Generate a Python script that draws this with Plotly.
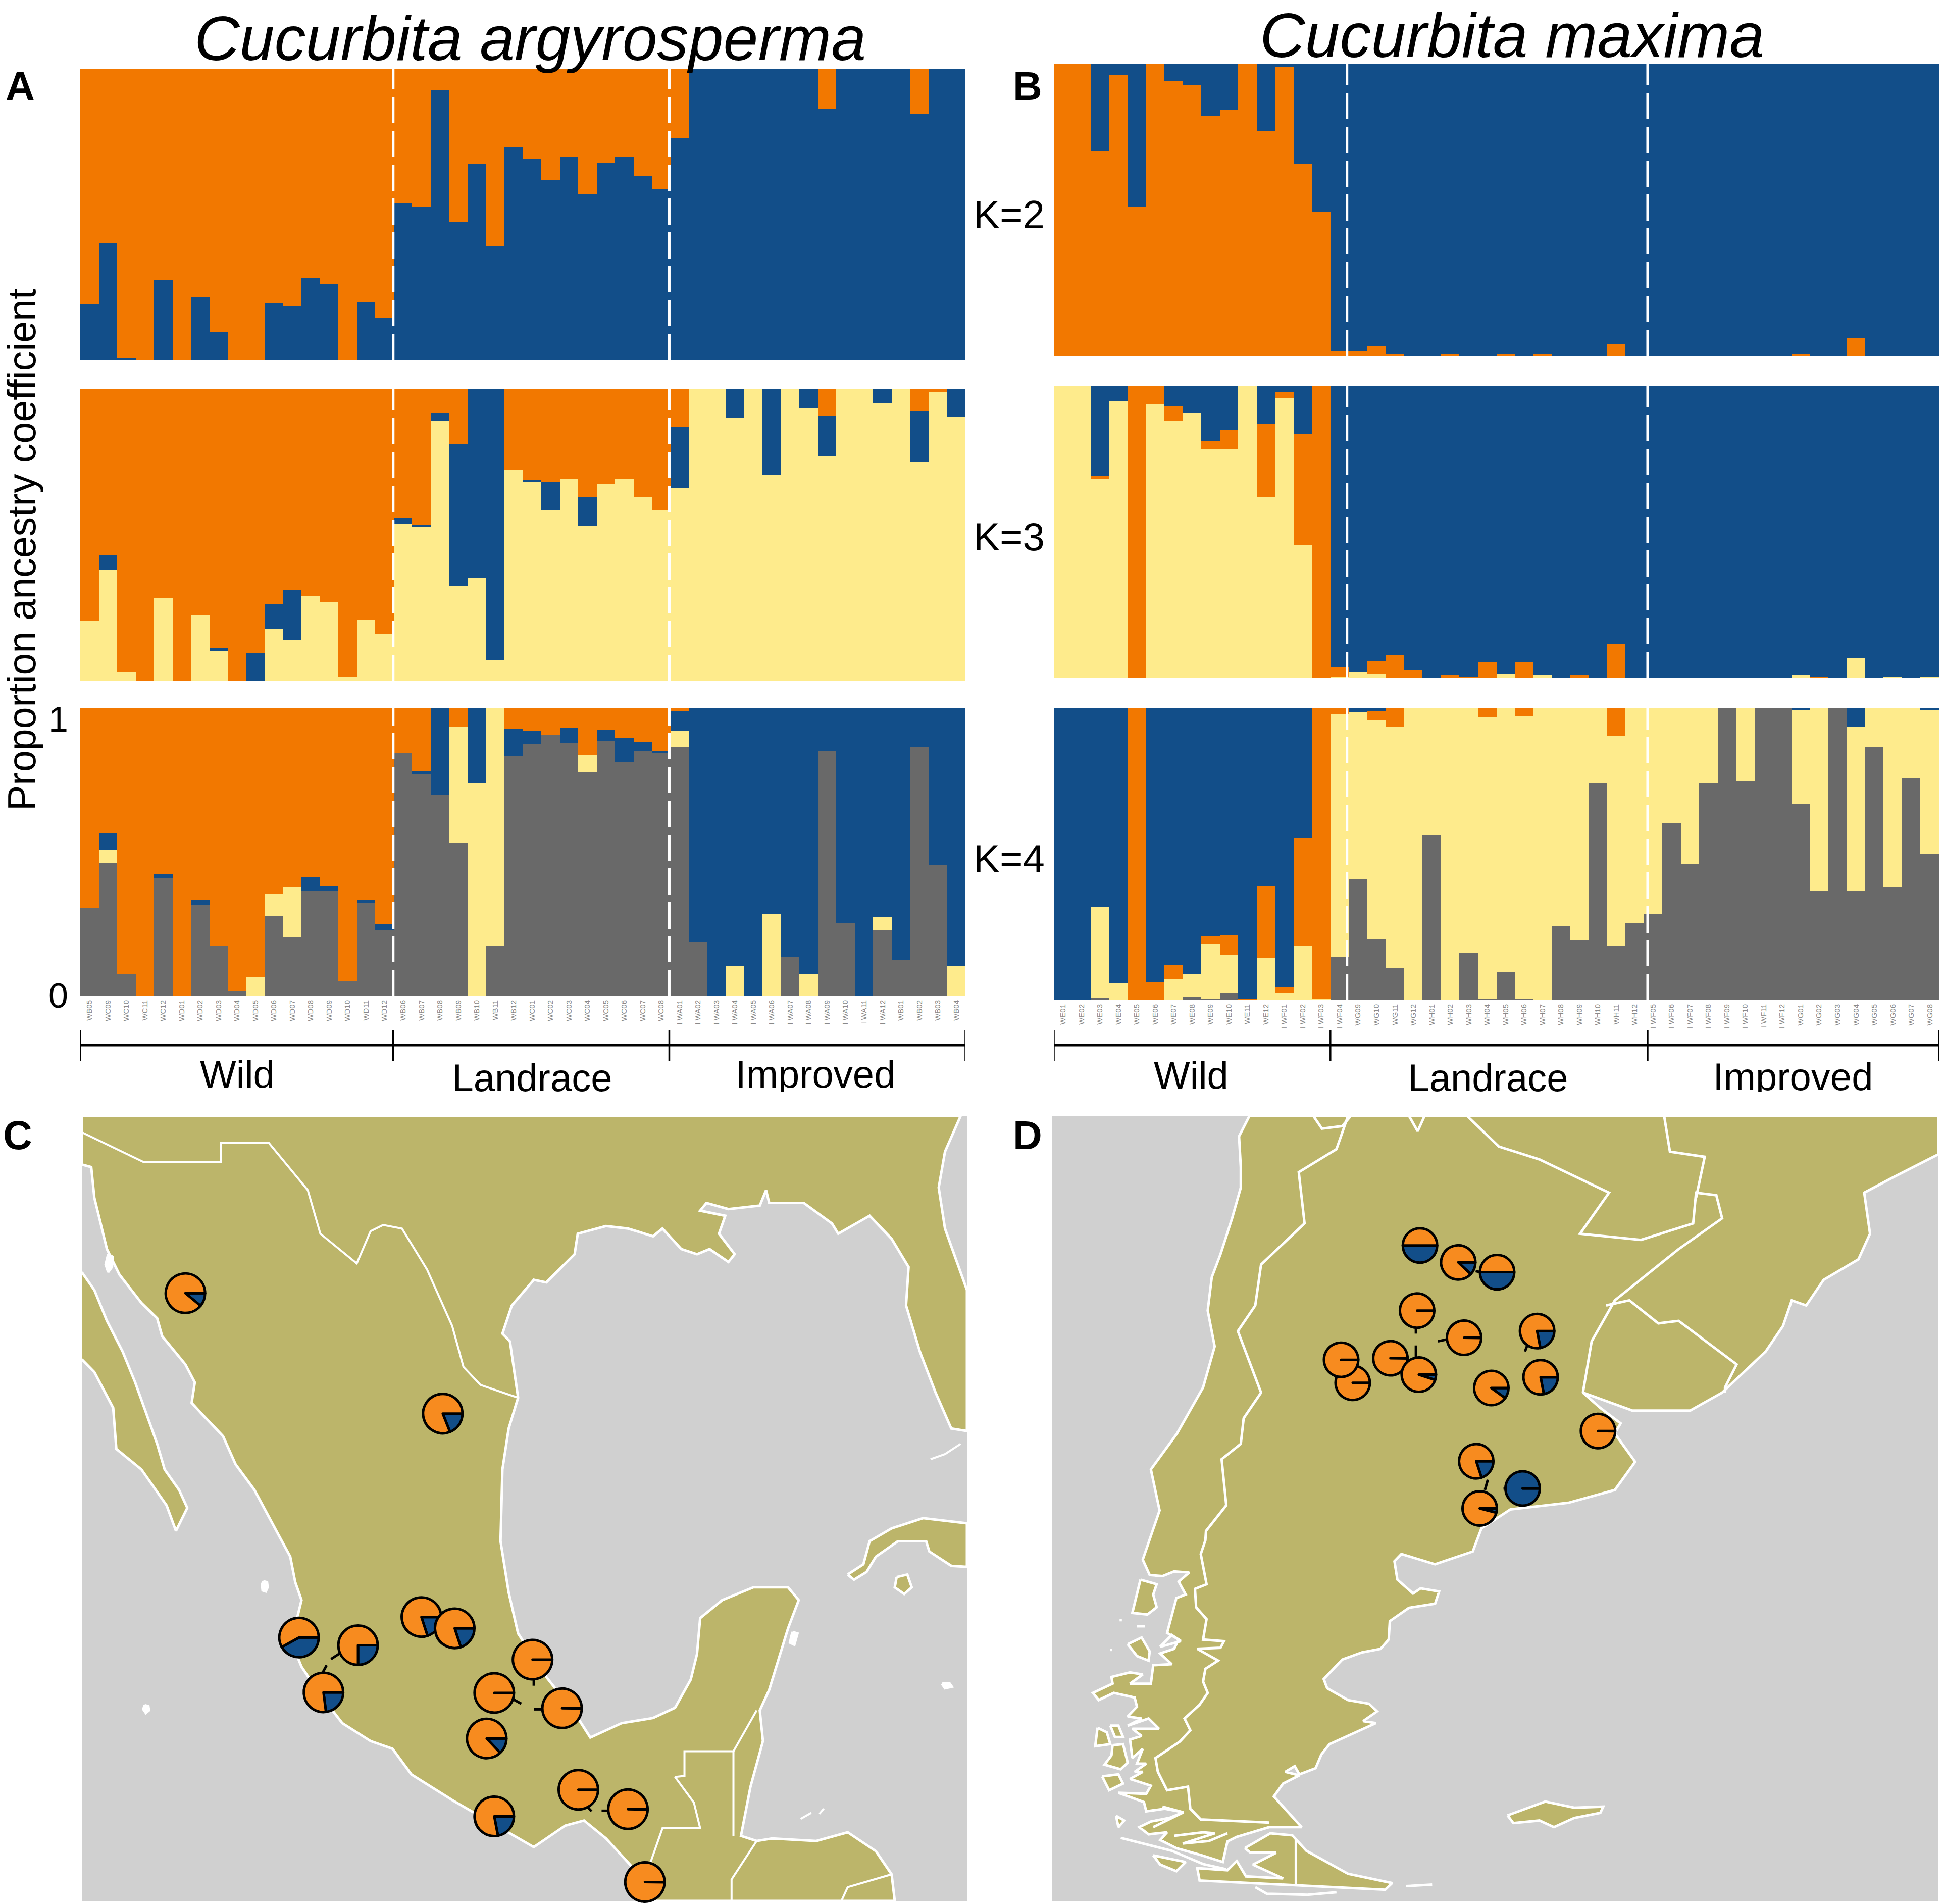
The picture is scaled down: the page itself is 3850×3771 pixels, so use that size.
import plotly.graph_objects as go

W, H = 3850, 3771

BLUE = "#124E89"
ORANGE = "#F27800"
YELLOW = "#FEEB8C"
GREY = "#696969"
LAND = "#BCB56A"
SEA = "#D0D0D0"
PIE_ORANGE = "#F78B1F"

# sample names, left to right
samples_a = ["WB05", "WC09", "WC10", "WC11", "WC12", "WD01", "WD02", "WD03", "WD04", "WD05", "WD06", "WD07", "WD08",
             "WD09", "WD10", "WD11", "WD12",
             "WB06", "WB07", "WB08", "WB09", "WB10", "WB11", "WB12", "WC01", "WC02", "WC03", "WC04", "WC05", "WC06",
             "WC07", "WC08",
             "I WA01", "I WA02", "I WA03", "I WA04", "I WA05", "I WA06", "I WA07", "I WA08", "I WA09", "I WA10",
             "I WA11", "I WA12", "WB01", "WB02", "WB03", "WB04"]
samples_b = ["WE01", "WE02", "WE03", "WE04", "WE05", "WE06", "WE07", "WE08", "WE09", "WE10", "WE11", "WE12", "I WF01",
             "I WF02", "I WF03",
             "I WF04", "WG09", "WG10", "WG11", "WG12", "WH01", "WH02", "WH03", "WH04", "WH05", "WH06", "WH07", "WH08",
             "WH09", "WH10", "WH11", "WH12",
             "I WF05", "I WF06", "I WF07", "I WF08", "I WF09", "I WF10", "I WF11", "I WF12", "WG01", "WG02", "WG03",
             "WG04", "WG05", "WG06", "WG07", "WG08"]

# ancestry proportions, C. argyrosperma
a_k2_blue = [.19, .40, .005, 0, .274, 0, .216, .095, 0, 0, .195, .184, .28, .26, 0, .20, .146,
             .538, .527, .925, .475, .672, .39, .729, .692, .617, .698, .57, .676, .698, .633, .586,
             .76, 1, 1, 1, 1, 1, 1, 1, .861, 1, 1, 1, 1, .845, 1, 1]
a_k2_orange = [.81, .60, .995, 1, .726, 1, .784, .905, 1, 1, .805, .816, .72, .74, 1, .80, .854,
               .462, .473, .075, .525, .328, .61, .271, .308, .383, .302, .43, .324, .302, .367, .414,
               .24, 0, 0, 0, 0, 0, 0, 0, .139, 0, 0, 0, 0, .155, 0, 0]

a_k3_yellow = [.206, .380, .032, 0, .285, 0, .227, .104, 0, 0, .179, .141, .291, .270, .014, .211, .162,
               .538, .527, .893, .327, .354, .072, .725, .681, .587, .693, .533, .675, .693, .630, .587,
               .661, 1, 1, .903, 1, .707, 1, .936, .772, 1, 1, .951, 1, .751, .989, .905]
a_k3_blue = [0, .053, 0, 0, 0, 0, 0, .008, 0, .095, .085, .171, 0, 0, 0, 0, 0,
             .023, .007, .028, .486, .646, .928, 0, .008, .094, 0, .097, 0, 0, 0, 0,
             .210, 0, 0, .097, 0, .293, 0, .064, .136, 0, 0, .049, 0, .174, 0, .095]
a_k3_orange = [.794, .567, .968, 1, .715, 1, .773, .888, 1, .905, .736, .688, .709, .730, .986, .789, .838,
               .439, .466, .079, .187, 0, 0, .275, .311, .319, .307, .370, .325, .307, .370, .413,
               .129, 0, 0, 0, 0, 0, 0, 0, .092, 0, 0, 0, 0, .075, .011, 0]

a_k4_grey = [.306, .461, .077, 0, .411, 0, .317, .174, .017, 0, .279, .205, .366, .366, .054, .324, .230,
             .844, .773, .699, .532, 0, .174, .832, .876, .907, .877, .778, .885, .810, .849, .843,
             .863, .190, 0, 0, 0, 0, .136, 0, .849, .254, 0, .230, .125, .865, .456, 0]
a_k4_yellow = [0, .045, 0, 0, 0, 0, 0, 0, 0, .066, .077, .173, 0, 0, 0, 0, 0,
               0, 0, 0, .403, .741, .826, 0, 0, 0, 0, .060, 0, 0, 0, 0,
               .057, 0, 0, .103, 0, .285, 0, .077, 0, 0, 0, .045, 0, 0, 0, .103]
a_k4_blue = [0, .060, 0, 0, .011, 0, .018, 0, 0, 0, 0, 0, .049, .016, 0, .011, .018,
             0, .007, .301, 0, .259, 0, .097, .045, 0, .053, 0, .039, .086, .032, .006,
             .067, .810, 1, .897, 1, .715, .864, .923, .151, .746, 1, .725, .875, .135, .544, .897]
a_k4_orange = [.694, .434, .923, 1, .578, 1, .665, .826, .983, .934, .644, .622, .585, .618, .946, .665, .752,
               .156, .220, 0, .065, 0, 0, .071, .079, .093, .070, .162, .076, .104, .119, .151,
               .013, 0, 0, 0, 0, 0, 0, 0, 0, 0, 0, 0, 0, 0, 0, 0]

# ancestry proportions, C. maxima
b_k2_orange = [1, 1, .702, .962, .512, 1, .942, .927, .820, .841, 1, .768, .988, .657, .493,
               .015, .015, .033, .005, 0, 0, .005, 0, 0, .005, 0, .005, 0, 0, 0, .042, 0,
               0, 0, 0, 0, 0, 0, 0, 0, .005, 0, 0, .063, 0, 0, 0, 0]
b_k2_blue = [0, 0, .298, .038, .488, 0, .058, .073, .180, .159, 0, .232, .012, .343, .507,
             .985, .985, .967, .995, 1, 1, .995, 1, 1, .995, 1, .995, 1, 1, 1, .958, 1,
             1, 1, 1, 1, 1, 1, 1, 1, .995, 1, 1, .937, 1, 1, 1, 1]

b_k3_yellow = [1, 1, .681, .949, 0, .937, .882, .910, .783, .783, 1, .619, .958, .456, 0,
               .006, .021, .016, 0, 0, 0, 0, 0, 0, .016, 0, .011, 0, 0, 0, 0, 0,
               0, 0, 0, 0, 0, 0, 0, 0, .011, 0, 0, .069, 0, .006, 0, .006]
b_k3_orange = [0, 0, .012, 0, 1, .063, .049, 0, .030, .069, 0, .252, .021, .379, 1,
               .032, 0, .042, .080, .027, 0, .011, .006, .053, 0, .053, 0, 0, .011, 0, .116, 0,
               0, 0, 0, 0, 0, 0, 0, 0, 0, .006, 0, 0, 0, 0, 0, 0]
b_k3_blue = [0, 0, .307, .051, 0, 0, .069, .090, .187, .148, 0, .129, .021, .165, 0,
             .962, .979, .942, .920, .973, 1, .989, .994, .947, .984, .947, .989, 1, .989, 1, .884, 1,
             1, 1, 1, 1, 1, 1, 1, 1, .989, .994, 1, .931, 1, .994, 1, .994]

b_k4_grey = [0, 0, .007, 0, 0, 0, 0, .011, .005, .025, 0, 0, 0, 0, 0,
             .148, .417, .210, .111, 0, .565, 0, .163, .005, .095, .005, 0, .254, .205, .745, .185, .265,
             .294, .607, .464, .745, 1, .750, 1, 1, .671, .373, 1, .373, .867, .389, .761, .501]
b_k4_yellow = [0, 0, .310, .058, 0, 0, .073, .078, .187, .130, 0, .144, .025, .185, .005,
               .831, .567, .748, .825, 1, .435, 1, .837, .963, .905, .968, 1, .746, .795, .255, .719, .735,
               .706, .393, .536, .255, 0, .250, 0, 0, .322, .627, 0, .563, .133, .611, .239, .492]
b_k4_orange = [0, 0, 0, 0, 1, .063, .048, 0, .029, .067, .005, .247, .022, .370, .995,
               .021, 0, .030, .064, 0, 0, 0, 0, .032, 0, .027, 0, 0, 0, 0, .096, 0,
               0, 0, 0, 0, 0, 0, 0, 0, 0, 0, 0, 0, 0, 0, 0, 0]
b_k4_blue = [1, 1, .683, .942, 0, .937, .879, .911, .779, .778, .995, .609, .953, .445, 0,
             0, .016, .012, 0, 0, 0, 0, 0, 0, 0, 0, 0, 0, 0, 0, 0, 0,
             0, 0, 0, 0, 0, 0, 0, 0, .007, 0, 0, .064, 0, 0, 0, .007]

# map C outlines, in map units of the panel (x 130-1540, y 30-1562 downwards)
c_main_x = [130, 130, 145, 150, 170, 190, 225, 250, 258, 295, 310, 305, 320, 355, 375, 405, 440, 462, 470, 480, 473,
            465, 480, 510, 545, 590, 625, 655, 720, 790, 850, 900, 930, 965, 1010, 1035, 1425, 1420, 1395, 1350,
            1300, 1230, 1205, 1180, 1195, 1215, 1210, 1225, 1240, 1255, 1272, 1255, 1200, 1150, 1115, 1110, 1100,
            1075, 1040, 990, 940, 915, 870, 825, 810, 797, 800, 810, 825, 812, 800, 815, 850, 870, 915, 920, 965,
            1000, 1040, 1055, 1085, 1110, 1130, 1160, 1170, 1145, 1155, 1115, 1125, 1160, 1210, 1220, 1225, 1280,
            1325, 1335, 1385, 1420, 1447, 1443, 1465, 1490, 1515, 1540, 1540, 1525, 1505, 1495, 1505, 1530, 130]
c_main_y = [30, 125, 130, 190, 290, 340, 395, 425, 460, 515, 550, 590, 610, 655, 710, 760, 840, 890, 940, 975, 1010,
            1060, 1105, 1160, 1215, 1250, 1265, 1315, 1365, 1415, 1457, 1415, 1405, 1440, 1500, 1562, 1562, 1510,
            1465, 1428, 1445, 1440, 1445, 1435, 1340, 1250, 1190, 1150, 1090, 1030, 975, 950, 950, 975, 1010, 1080,
            1130, 1185, 1205, 1215, 1243, 1195, 1125, 1040, 960, 860, 720, 640, 580, 470, 455, 400, 350, 355, 300,
            260, 245, 250, 265, 250, 290, 300, 290, 315, 300, 260, 225, 215, 200, 212, 205, 175, 200, 200, 240, 260,
            225, 270, 325, 400, 490, 570, 640, 645, 370, 320, 250, 170, 100, 30, 30]
c_baja_x = [130, 150, 170, 195, 215, 235, 250, 262, 285, 298, 280, 265, 225, 185, 180, 150, 130]
c_baja_y = [335, 370, 430, 490, 550, 620, 670, 720, 760, 795, 840, 790, 720, 680, 600, 530, 505]
c_cuba_x = [1350, 1375, 1385, 1420, 1470, 1540, 1540, 1515, 1480, 1475, 1430, 1395, 1380, 1360, 1350]
c_cuba_y = [925, 905, 860, 835, 815, 825, 910, 908, 880, 860, 860, 890, 920, 935, 925]
c_juventud_x = [1428, 1445, 1452, 1440, 1425, 1428]
c_juventud_y = [930, 925, 950, 963, 950, 930]
c_border1_x = [130, 228, 352, 352, 428, 490, 510, 568, 590, 610, 640, 680, 720, 738, 765, 825]
c_border1_y = [62, 120, 120, 83, 83, 175, 260, 318, 255, 243, 250, 330, 440, 520, 555, 580]
c_border2_x = [1035, 1055, 1115, 1105, 1075, 1090, 1090, 1168, 1168]
c_border2_y = [1490, 1420, 1420, 1370, 1320, 1318, 1270, 1270, 1435]
c_border3_x = [1168, 1205]
c_border3_y = [1270, 1190]
c_border4_x = [1205, 1165, 1165]
c_border4_y = [1445, 1520, 1562]
c_border5_x = [1340, 1350, 1420]
c_border5_y = [1562, 1535, 1510]
c_islet1_x = [419, 425, 426, 423, 418, 417, 419]
c_islet1_y = [938, 940, 950, 958, 956, 945, 938]
c_islet2_x = [230, 236, 237, 232, 228, 230]
c_islet2_y = [1180, 1182, 1190, 1195, 1188, 1180]
c_islet3_x = [172, 179, 178, 172, 168, 172]
c_islet3_y = [300, 305, 325, 335, 320, 300]
c_islet4_x = [1500, 1512, 1516, 1505, 1500]
c_islet4_y = [1138, 1137, 1144, 1147, 1138]
c_islet5_x = [1275, 1292]
c_islet5_y = [1402, 1390]
c_islet6_x = [1305, 1312]
c_islet6_y = [1392, 1382]
c_islet7_x = [1482, 1505, 1530]
c_islet7_y = [700, 690, 670]
c_islet8_x = [1262, 1270, 1265, 1258, 1262]
c_islet8_y = [1037, 1040, 1062, 1058, 1037]

# map D outlines, in map units of the panel (x 30-1558, y 30-1562 downwards)
d_main_x = [370, 352, 355, 355, 340, 320, 305, 298, 310, 290, 245, 200, 215, 190, 186, 198, 220, 240, 266, 248, 260,
            244, 236, 228, 248, 240, 216, 236, 204, 200, 164, 186, 164, 132, 134, 100, 110, 136, 172, 176, 160, 184,
            160, 196, 214, 168, 184, 164, 168, 186, 176, 192, 172, 186, 164, 200, 192, 144, 188, 192, 224, 256, 232,
            200, 180, 196, 228, 216, 244, 288, 324, 332, 348, 404, 460, 432, 412, 428, 456, 432, 448, 456, 484, 494,
            508, 588, 566, 590, 576, 540, 504, 498, 530, 564, 596, 610, 612, 645, 690, 697, 665, 652, 625, 620, 632,
            690, 755, 770, 820, 920, 1000, 1035, 1000, 1010, 975, 945, 1030, 1130, 1185, 1260, 1290, 1305, 1330, 1360,
            1420, 1440, 1430, 1480, 1558, 1558, 370]
d_main_y = [30, 70, 130, 170, 230, 300, 345, 410, 480, 560, 650, 720, 800, 880, 896, 926, 928, 919, 921, 939, 964,
            971, 1003, 1039, 1052, 1070, 1079, 1100, 1102, 1138, 1138, 1120, 1116, 1125, 1138, 1156, 1170, 1156, 1165,
            1183, 1202, 1206, 1220, 1206, 1226, 1226, 1240, 1247, 1283, 1265, 1294, 1294, 1310, 1310, 1324, 1337,
            1353, 1351, 1369, 1387, 1382, 1389, 1400, 1407, 1418, 1432, 1428, 1443, 1459, 1473, 1486, 1446, 1437,
            1418, 1418, 1382, 1358, 1333, 1317, 1310, 1299, 1315, 1303, 1276, 1256, 1215, 1211, 1192, 1177, 1170,
            1147, 1129, 1091, 1077, 1070, 1052, 1016, 990, 982, 958, 952, 962, 935, 899, 885, 905, 880, 835, 798, 785,
            760, 705, 650, 630, 600, 570, 605, 605, 570, 490, 440, 390, 400, 350, 310, 260, 180, 150, 105, 30, 30]
d_fuego_x = [362, 406, 444, 468, 540, 616, 604, 450, 356, 284, 280, 332, 348, 364, 428, 376, 416, 372, 362]
d_fuego_y = [1459, 1430, 1434, 1464, 1509, 1527, 1540, 1531, 1525, 1522, 1498, 1502, 1484, 1514, 1518, 1491, 1468,
             1468, 1459]
d_chiloe_x = [182, 210, 204, 210, 194, 168, 182]
d_chiloe_y = [935, 944, 964, 989, 1003, 1000, 935]
d_taitao_x = [160, 184, 198, 196, 176, 160]
d_taitao_y = [1061, 1048, 1075, 1093, 1084, 1061]
d_isle1_x = [108, 124, 130, 104, 108]
d_isle1_y = [1224, 1233, 1256, 1260, 1224]
d_isle2_x = [130, 144, 152, 138, 130]
d_isle2_y = [1220, 1220, 1242, 1242, 1220]
d_isle3_x = [134, 152, 160, 148, 120, 132, 134]
d_isle3_y = [1258, 1256, 1292, 1305, 1296, 1278, 1258]
d_isle4_x = [116, 144, 152, 128, 116]
d_isle4_y = [1319, 1315, 1333, 1346, 1319]
d_isle5_x = [140, 154, 144, 140]
d_isle5_y = [1396, 1405, 1418, 1396]
d_isle6_x = [204, 260, 244, 216, 204]
d_isle6_y = [1473, 1486, 1504, 1491, 1473]
d_falkland_x = [815, 850, 880, 930, 980, 975, 930, 895, 870, 825, 815]
d_falkland_y = [1395, 1380, 1368, 1380, 1378, 1390, 1400, 1418, 1405, 1410, 1395]
d_border1_x = [540, 520, 455, 465, 390, 380, 350, 390, 360, 355, 322, 330, 295, 294, 286, 296, 276, 278, 296, 290, 326,
               320, 280, 316, 294, 290, 298, 284, 258, 268, 250, 208, 212, 228, 264, 268, 286, 404]
d_border1_y = [30, 95, 140, 240, 320, 400, 450, 570, 620, 670, 700, 790, 840, 858, 885, 944, 953, 989, 1012, 1052,
               1055, 1068, 1070, 1093, 1109, 1134, 1156, 1179, 1206, 1229, 1251, 1283, 1310, 1346, 1339, 1382, 1403,
               1409]
d_border2_x = [480, 495, 530, 545]
d_border2_y = [30, 55, 50, 30]
d_border3_x = [645, 660, 672]
d_border3_y = [30, 60, 30]
d_border4_x = [745, 800, 870, 990, 940, 1045, 1135, 1140, 1175, 1185, 1110, 1000, 960, 945]
d_border4_y = [30, 90, 115, 180, 260, 272, 240, 180, 185, 230, 290, 390, 470, 570]
d_border5_x = [1085, 1095, 1155, 1140]
d_border5_y = [30, 100, 110, 190]
d_border6_x = [985, 1025, 1075, 1110, 1210, 1190, 1190]
d_border6_y = [400, 390, 435, 430, 515, 560, 570]
d_border7_x = [450, 450]
d_border7_y = [1440, 1531]
d_fjord1_x = [252, 216, 236, 252]
d_fjord1_y = [1055, 1066, 1043, 1055]
d_fjord2_x = [220, 256, 204]
d_fjord2_y = [1378, 1389, 1418]
d_fjord3_x = [148, 236, 290, 330]
d_fjord3_y = [1439, 1464, 1490, 1500]
d_fjord4_x = [240, 290, 310, 255, 300, 332]
d_fjord4_y = [1435, 1428, 1430, 1450, 1445, 1430]
d_fjord5_x = [640, 685]
d_fjord5_y = [1533, 1530]
d_fjord6_x = [146, 150]
d_fjord6_y = [1014, 1014]
d_fjord7_x = [130, 133]
d_fjord7_y = [1072, 1072]
d_fjord8_x = [176, 190]
d_fjord8_y = [1026, 1026]
d_fjord9_x = [380, 400, 470, 520]
d_fjord9_y = [1535, 1548, 1550, 1545]

# pies: centre in map units, share of the blue ancestry
c_pie_x = [295, 705, 476, 570, 515, 671, 724, 848, 787, 895, 775, 921, 1000, 787, 1027]
c_pie_y = [376, 611, 1048, 1063, 1155, 1008, 1030, 1091, 1156, 1186, 1245, 1345, 1383, 1397, 1525]
c_pie_blue = [.11, .19, .42, .25, .23, .20, .20, .002, .002, .002, .13, .002, .002, .22, .002]
d_pie_x = [664, 730, 797, 659, 740, 866, 548, 528, 613, 662, 787, 872, 971, 761, 841, 767]
d_pie_y = [283, 316, 335, 410, 463, 450, 551, 506, 503, 535, 561, 540, 645, 704, 757, 796]
d_pie_blue = [.5, .12, .5, .002, .002, .22, .002, .002, .002, .05, .10, .22, .002, .20, .998, .04]

# short leader lines beside the pies
c_leaders = [((527, 542), (1090, 1078)), ((513, 520), (1118, 1102)), ((850, 850), (1128, 1142)),
             ((815, 830), (1167, 1177)), ((850, 866), (1188, 1188)), ((935, 942), (1378, 1387)),
             ((958, 972), (1386, 1386))]
d_leaders = [((760, 780), (333, 338)), ((657, 657), (445, 455)), ((657, 657), (478, 500)),
             ((695, 715), (470, 465)), ((845, 850), (490, 475)), ((781, 776), (740, 760)),
             ((808, 818), (757, 757))]


def px_x(v):
    return v / W


def px_y(v):
    return 1 - v / H


fig = go.Figure()
layout = {}


def add_axes(n, x0, x1, y0, y1, **xkw):
    """x0..y1 in page pixels, y measured from the top"""
    sfx = "" if n == 1 else str(n)
    base = dict(showgrid=False, zeroline=False, showline=False, ticks="", showticklabels=False)
    xa = dict(base, domain=[px_x(x0), px_x(x1)], anchor=f"y{sfx}")
    xa.update(xkw)
    ya = dict(base, domain=[px_y(y1), px_y(y0)], anchor=f"x{sfx}", range=[0, 1])
    layout[f"xaxis{sfx}"] = xa
    layout[f"yaxis{sfx}"] = ya


def add_stack(n, names, series):
    sfx = "" if n == 1 else str(n)
    for vals, col in series:
        fig.add_trace(go.Bar(x=names, y=vals, marker=dict(color=col, line=dict(width=0)),
                             xaxis=f"x{sfx}", yaxis=f"y{sfx}", showlegend=False, hoverinfo="skip"))


shapes = []


def dashed(n, pos):
    sfx = "" if n == 1 else str(n)
    for p in pos:
        shapes.append(dict(type="line", xref=f"x{sfx}", yref=f"y{sfx} domain", x0=p, x1=p, y0=0, y1=1,
                           line=dict(color="white", width=5, dash="52px,15px"), layer="above"))


# structure bars
AX0, AX1 = 159, 1912
BX0, BX1 = 2087, 3840
panels = [
    (1, AX0, AX1, 136, 713, samples_a, [(a_k2_blue, BLUE), (a_k2_orange, ORANGE)], (16.47, 31.44)),
    (2, AX0, AX1, 771, 1349, samples_a, [(a_k3_yellow, YELLOW), (a_k3_blue, BLUE), (a_k3_orange, ORANGE)],
     (16.47, 31.44)),
    (3, AX0, AX1, 1402, 1973, samples_a,
     [(a_k4_grey, GREY), (a_k4_yellow, YELLOW), (a_k4_blue, BLUE), (a_k4_orange, ORANGE)], (16.47, 31.44)),
    (4, BX0, BX1, 126, 705, samples_b, [(b_k2_orange, ORANGE), (b_k2_blue, BLUE)], (15.4, 31.7)),
    (5, BX0, BX1, 765, 1343, samples_b, [(b_k3_yellow, YELLOW), (b_k3_orange, ORANGE), (b_k3_blue, BLUE)],
     (15.4, 31.7)),
    (6, BX0, BX1, 1402, 1981, samples_b,
     [(b_k4_grey, GREY), (b_k4_yellow, YELLOW), (b_k4_orange, ORANGE), (b_k4_blue, BLUE)], (15.4, 31.7)),
]
for n, x0, x1, y0, y1, names, series, cuts in panels:
    labelled = n in (3, 6)
    add_axes(n, x0, x1, y0, y1, type="category", range=[-0.5, 47.5], categoryorder="array", categoryarray=names,
             tickmode="linear" if labelled else None, showticklabels=labelled, tickangle=-90,
             tickfont=dict(family="Liberation Sans", size=15, color="#8A8A8A"), ticklabelstandoff=4)
    add_stack(n, names, series)
    dashed(n, cuts)

# brackets under the bars
for n, cuts in ((3, (-0.5, 16.47, 31.44, 47.5)), (6, (-0.5, 14.5, 31.7, 47.5))):
    sfx = str(n)
    shapes.append(dict(type="line", xref=f"x{sfx}", yref="paper", x0=cuts[0], x1=cuts[-1], y0=px_y(2070), y1=px_y(2070),
                       line=dict(color="black", width=5)))
    for c in cuts:
        shapes.append(dict(type="line", xref=f"x{sfx}", yref="paper", x0=c, x1=c, y0=px_y(2040), y1=px_y(2102),
                           line=dict(color="black", width=3.5)))

# group names, clipped at the bottom like the cropped original
group_x = [470, 1054, 1615, 2359, 2947, 3551]
group_y = [2135, 2142, 2135, 2137, 2142, 2140]
group_names = ["Wild", "Landrace", "Improved", "Wild", "Landrace", "Improved"]
add_axes(7, 0, W, 2100, 2163, range=[0, W])
layout["yaxis7"]["range"] = [2163, 2100]
fig.add_trace(go.Scatter(x=group_x, y=group_y, text=group_names, mode="text", xaxis="x7", yaxis="y7",
                         textposition="middle center", cliponaxis=True, showlegend=False, hoverinfo="skip",
                         textfont=dict(family="Liberation Sans", size=76, color="black")))

# maps
MAPS = {
    8: dict(px=(162, 1915, 2210, 3765), xr=(130, 1540), yr=(1562, 30)),
    9: dict(px=(2084, 3839, 2210, 3765), xr=(30, 1558), yr=(1562, 30)),
}
for n, m in MAPS.items():
    add_axes(n, m["px"][0], m["px"][1], m["px"][2], m["px"][3], range=list(m["xr"]))
    layout[f"yaxis{n}"]["range"] = list(m["yr"])
    shapes.insert(0, dict(type="rect", xref="paper", yref="paper", x0=px_x(m["px"][0]), x1=px_x(m["px"][1]),
                          y0=px_y(m["px"][3]), y1=px_y(m["px"][2]), fillcolor=SEA, line=dict(width=0), layer="below"))

COAST = 5


def land(n, xs, ys):
    fig.add_trace(go.Scatter(x=xs, y=ys, mode="lines", fill="toself", fillcolor=LAND,
                             line=dict(color="white", width=COAST), xaxis=f"x{n}", yaxis=f"y{n}",
                             showlegend=False, hoverinfo="skip"))


def isle(n, xs, ys):
    fig.add_trace(go.Scatter(x=xs, y=ys, mode="lines", fill="toself", fillcolor="white",
                             line=dict(color="white", width=COAST), xaxis=f"x{n}", yaxis=f"y{n}",
                             showlegend=False, hoverinfo="skip"))


def border(n, xs, ys, color="white", width=COAST - 1):
    fig.add_trace(go.Scatter(x=xs, y=ys, mode="lines", line=dict(color=color, width=width), xaxis=f"x{n}",
                             yaxis=f"y{n}", showlegend=False, hoverinfo="skip"))


land(8, c_main_x, c_main_y)
land(8, c_baja_x, c_baja_y)
land(8, c_cuba_x, c_cuba_y)
land(8, c_juventud_x, c_juventud_y)
for bx, by in ((c_border1_x, c_border1_y), (c_border2_x, c_border2_y), (c_border3_x, c_border3_y),
               (c_border4_x, c_border4_y), (c_border5_x, c_border5_y), (c_islet5_x, c_islet5_y),
               (c_islet6_x, c_islet6_y), (c_islet7_x, c_islet7_y)):
    border(8, bx, by)
for ix, iy in ((c_islet1_x, c_islet1_y), (c_islet2_x, c_islet2_y), (c_islet3_x, c_islet3_y), (c_islet4_x, c_islet4_y),
               (c_islet8_x, c_islet8_y)):
    isle(8, ix, iy)

land(9, d_main_x, d_main_y)
for lx, ly in ((d_fuego_x, d_fuego_y), (d_chiloe_x, d_chiloe_y), (d_taitao_x, d_taitao_y), (d_isle1_x, d_isle1_y),
               (d_isle2_x, d_isle2_y), (d_isle3_x, d_isle3_y), (d_isle4_x, d_isle4_y), (d_isle5_x, d_isle5_y),
               (d_isle6_x, d_isle6_y), (d_falkland_x, d_falkland_y)):
    land(9, lx, ly)
for bx, by in ((d_border1_x, d_border1_y), (d_border2_x, d_border2_y), (d_border3_x, d_border3_y),
               (d_border4_x, d_border4_y), (d_border5_x, d_border5_y), (d_border6_x, d_border6_y),
               (d_border7_x, d_border7_y), (d_fjord1_x, d_fjord1_y), (d_fjord2_x, d_fjord2_y),
               (d_fjord3_x, d_fjord3_y), (d_fjord4_x, d_fjord4_y), (d_fjord5_x, d_fjord5_y),
               (d_fjord6_x, d_fjord6_y), (d_fjord7_x, d_fjord7_y), (d_fjord8_x, d_fjord8_y),
               (d_fjord9_x, d_fjord9_y)):
    border(9, bx, by, width=COAST)

for lx, ly in c_leaders:
    border(8, list(lx), list(ly), "black", 5)
for lx, ly in d_leaders:
    border(9, list(lx), list(ly), "black", 5)


def add_pies(n, xs, ys, blues, diam, direction):
    m = MAPS[n]
    xr, yr, p = m["xr"], m["yr"], m["px"]
    for cx, cy, b in zip(xs, ys, blues):
        # map units to page pixels, then a square domain round that centre
        pxx = p[0] + (cx - xr[0]) / (xr[1] - xr[0]) * (p[1] - p[0])
        pxy = p[2] + (cy - yr[1]) / (yr[0] - yr[1]) * (p[3] - p[2])
        fig.add_trace(go.Pie(values=[b, 1 - b],
                             marker=dict(colors=[BLUE, PIE_ORANGE], line=dict(color="black", width=5)),
                             sort=False, direction=direction, rotation=90, textinfo="none", hoverinfo="skip",
                             showlegend=False,
                             domain=dict(x=[px_x(pxx - diam / 2), px_x(pxx + diam / 2)],
                                         y=[px_y(pxy + diam / 2), px_y(pxy - diam / 2)])))


add_pies(8, c_pie_x, c_pie_y, c_pie_blue, 78, "clockwise")
add_pies(9, d_pie_x, d_pie_y, d_pie_blue, 68, "counterclockwise")


def note(text, x, y, size, **kw):
    style = kw.pop("style", "normal")
    weight = kw.pop("weight", "normal")
    return dict(text=text, xref="paper", yref="paper", x=px_x(x), y=px_y(y), showarrow=False,
                xanchor="center", yanchor="middle",
                font=dict(family="Liberation Sans", size=size, color="black", style=style, weight=weight), **kw)


annotations = [
    note("Cucurbita argyrosperma", 1050, 76, 124, style="italic"),
    note("Cucurbita maxima", 2994, 70, 124, style="italic"),
    note("A", 40, 170, 80, weight="bold"),
    note("B", 2035, 170, 80, weight="bold"),
    note("C", 35, 2248, 80, weight="bold"),
    note("D", 2035, 2248, 80, weight="bold"),
    note("K=2", 1998, 425, 78),
    note("K=3", 1998, 1063, 78),
    note("K=4", 1998, 1701, 78),
    note("1", 115, 1425, 70),
    note("0", 115, 1972, 70),
    note("Proportion ancestry coefficient", 43, 1089, 77, textangle=-90),
]

fig.update_layout(
    width=W, height=H, autosize=False, margin=dict(l=0, r=0, t=0, b=0), paper_bgcolor="white",
    plot_bgcolor="rgba(0,0,0,0)", barmode="stack", bargap=0, shapes=shapes, annotations=annotations,
    **layout,
)
# drop the browser's default 8px page margin, no toolbar on the page
fig.write_html("out.html", config={"displayModeBar": False}, post_script="document.body.style.margin = '0';")
